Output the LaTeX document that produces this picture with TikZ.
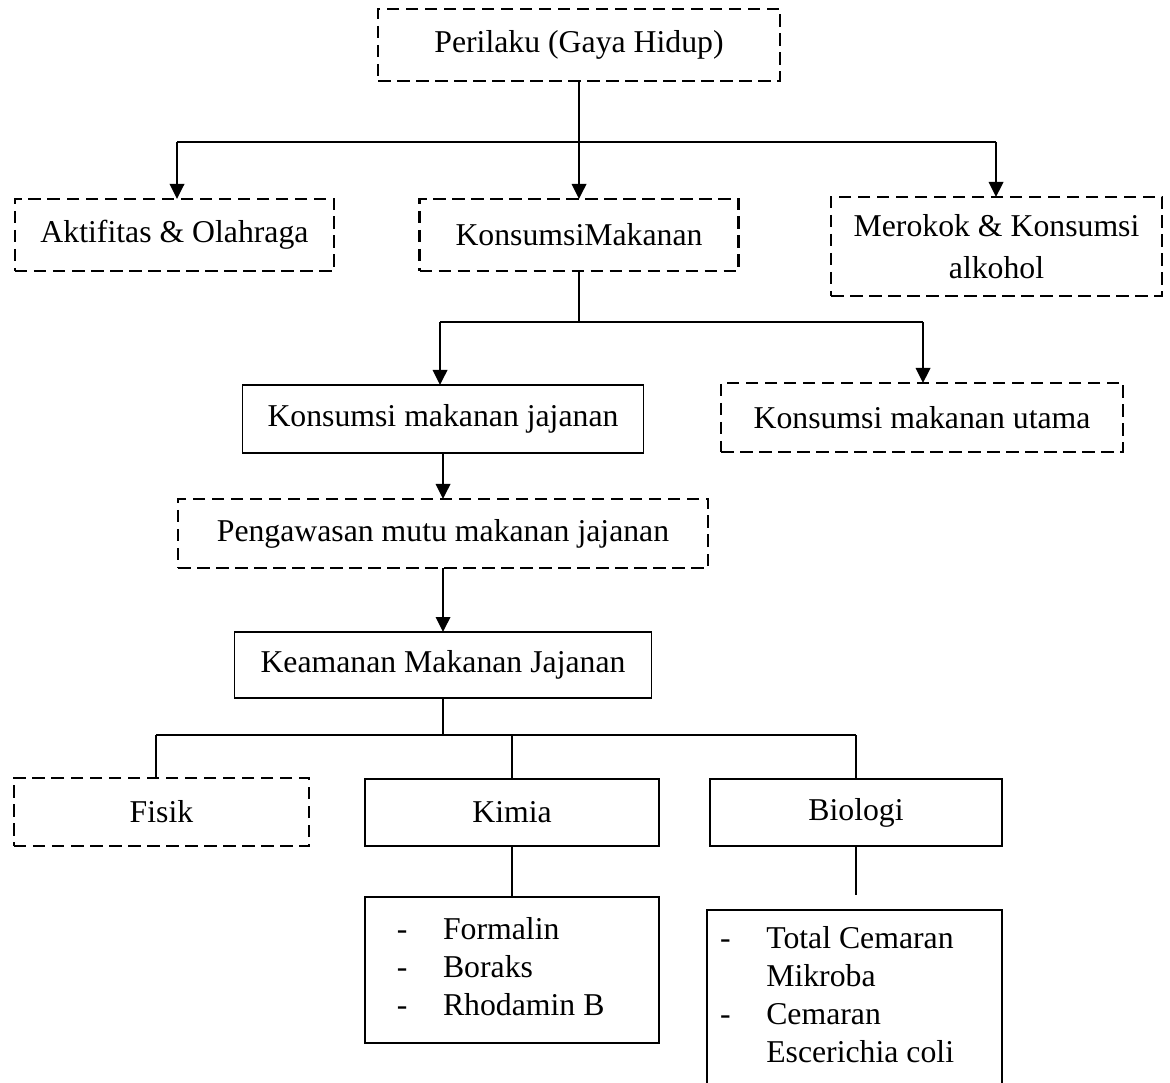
\documentclass[tikz,border=0pt]{standalone}
\usepackage{fontspec}
\setmainfont{Liberation Serif}
\usetikzlibrary{arrows.meta}
\begin{document}
\begin{tikzpicture}[x=0.4pt,y=-0.4pt,
  every node/.style={font=\fontsize{12.7}{15.2}\selectfont},
  base/.style={draw, inner sep=0pt, outer sep=0pt, align=center},
  dbox/.style={base, line width=1.05pt, dash pattern=on 5pt off 2.6pt},
  sbox/.style={base, line width=0.75pt},
  lbox/.style={draw, line width=0.75pt, outer sep=0pt},
  conn/.style={line width=0.75pt},
  arr/.style={conn, -{Triangle[length=6pt,width=5.8pt]}}]
\useasboundingbox (0,0) rectangle (1170,1083);

% boxes
\node[dbox, minimum width=160.8pt, minimum height=28.8pt] (top) at (579,45) {Perilaku (Gaya Hidup)};
\node[dbox, minimum width=127.6pt, minimum height=28.8pt] (akt) at (174.5,235) {Aktifitas \& Olahraga};
\node[dbox, minimum width=127.6pt, minimum height=28.8pt] (kon) at (579,235) {KonsumsiMakanan};
\node[dbox, minimum width=132.4pt, minimum height=39.6pt, font=\fontsize{12.7}{16.8}\selectfont] (mer) at (996.5,246.5) {Merokok \& Konsumsi\\alkohol};
\node[sbox, minimum width=160.4pt, minimum height=27.2pt] (jaj) at (443,419) {Konsumsi makanan jajanan};
\node[dbox, minimum width=160.8pt, minimum height=27.6pt] (uta) at (922,417.5) {Konsumsi makanan utama};
\node[dbox, minimum width=212pt, minimum height=27.6pt] (pen) at (443,533.5) {Pengawasan mutu makanan jajanan};
\node[sbox, minimum width=166.8pt, minimum height=26.4pt] (kea) at (443,665) {Keamanan Makanan Jajanan};
\node[dbox, minimum width=118pt, minimum height=27.2pt] (fis) at (161.5,812) {Fisik};
\node[sbox, minimum width=117.6pt, minimum height=26.8pt] (kim) at (512,812.5) {Kimia};
\node[sbox, minimum width=116.8pt, minimum height=26.8pt] (bio) at (856,812.5) {Biologi};
\node[lbox, minimum height=58.4pt, inner xsep=12.8pt, inner ysep=0pt] (kimlist) at (512,970)
  {\begin{tabular}{@{}l@{\hspace{14.2pt}}l@{}}
   \makebox[4.2pt][l]{-}&\makebox[73.6pt][l]{Formalin}\\
   -&Boraks\\
   -&Rhodamin B
   \end{tabular}};
\node[lbox, anchor=north, inner xsep=5.2pt, inner ysep=4.6pt] (biolist) at (854.5,910)
  {\begin{tabular}[t]{@{}l@{\hspace{14.2pt}}l@{}}
   \makebox[4.2pt][l]{-}&\makebox[89pt][l]{Total Cemaran}\\
   &Mikroba\\
   -&Cemaran\\
   &Escerichia coli\\
   &
   \end{tabular}};

% junction points
\coordinate (ja) at (177,142);
\coordinate (jm) at (996,142);
\coordinate (j2a) at (440,322);
\coordinate (j2b) at (923,322);
\coordinate (j3) at (443,735);
\coordinate (j3a) at (156,735);
\coordinate (j3b) at (856,735);
\coordinate (bend) at (856,895);

% connectors level 1
\draw[arr] (top.south) -- (kon.north);
\draw[conn] (ja) -- (jm);
\draw[arr] (ja) -- (ja |- akt.north);
\draw[arr] (jm) -- (jm |- mer.north);

% level 2
\draw[conn] (kon.south) -- (kon.south |- j2a);
\draw[conn] (j2a) -- (j2b);
\draw[arr] (j2a) -- (j2a |- jaj.north);
\draw[arr] (j2b) -- (j2b |- uta.north);

% chain
\draw[arr] (jaj.south) -- (pen.north);
\draw[arr] (pen.south) -- (kea.north);

% level 3
\draw[conn] (kea.south) -- (j3);
\draw[conn] (j3a) -- (j3b);
\draw[conn] (j3a) -- (j3a |- fis.north);
\draw[conn] (kim.north |- j3) -- (kim.north);
\draw[conn] (j3b) -- (bio.north);
\draw[conn] (kim.south) -- (kimlist.north);
\draw[conn] (bio.south) -- (bend);
\end{tikzpicture}
\end{document}
